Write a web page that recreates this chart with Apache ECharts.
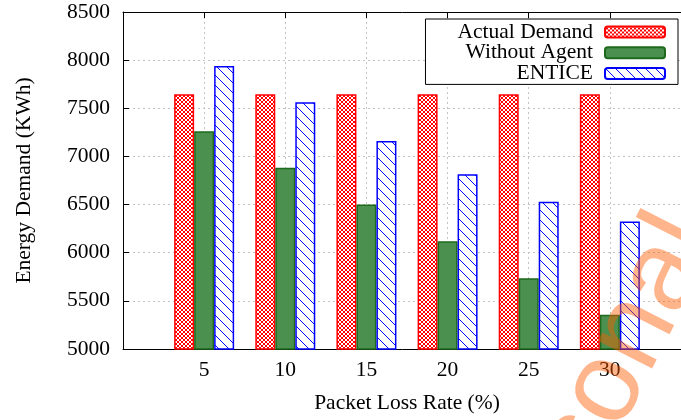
<!DOCTYPE html>
<html><head><meta charset="utf-8">
<script src="https://cdn.jsdelivr.net/npm/echarts@6/dist/echarts.min.js"></script>
<style>html,body{margin:0;padding:0;background:#fff}#c{width:681px;height:420px}</style>
</head><body><div id="c"></div>
<script>
const xValues = [5, 10, 15, 20, 25, 30];
const xTickLabels = ['5', '10', '15', '20', '25', '30'];
const seriesNames = ['Actual Demand', 'Without Agent', 'ENTICE'];
const actualDemand = [7645, 7645, 7645, 7645, 7645, 7645];
const withoutAgent = [7262, 6882, 6500, 6118, 5735, 5355];
const entice = [7938, 7562, 7160, 6815, 6530, 6324];
const yTicks = [5000, 5500, 6000, 6500, 7000, 7500, 8000, 8500];

function makePattern(size, draw) {
  const cv = document.createElement('canvas');
  cv.width = size; cv.height = size;
  const g = cv.getContext('2d');
  g.fillStyle = '#fff'; g.fillRect(0, 0, size, size);
  draw(g, size);
  return { image: cv, repeat: 'repeat' };
}
const redPat = makePattern(4, (g, s) => {
  g.strokeStyle = '#ff0000'; g.lineWidth = 1;
  g.beginPath();
  g.moveTo(0, 0); g.lineTo(s, s);
  g.moveTo(0, s); g.lineTo(s, 0);
  g.stroke();
});
const bluePat = makePattern(10, (g, s) => {
  g.strokeStyle = '#0000ff'; g.lineWidth = 1;
  g.beginPath();
  g.moveTo(-1, -1); g.lineTo(s + 1, s + 1);
  g.stroke();
});

const font = 'Liberation Serif';
const fs = 21.5;
const pair = arr => xValues.map((x, i) => [x, arr[i]]);

const chart = echarts.init(document.getElementById('c'), null, { renderer: 'canvas' });
chart.setOption({
  animation: false,
  backgroundColor: '#fff',
  textStyle: { fontFamily: font },
  grid: { left: 123, top: 12, right: -10, bottom: 71, show: false, outerBoundsMode: 'none', containLabel: false },
  legend: {
    orient: 'vertical', right: 3, top: 19, align: 'right',
    itemWidth: 60, itemHeight: 11, itemGap: -1.3,
    padding: [2, 12, 0, 32],
    borderColor: '#000', borderWidth: 1, backgroundColor: '#fff',
    textStyle: { fontFamily: font, fontSize: fs, color: '#000', lineHeight: 20.7, padding: [0, 7, 0, 0] },
    data: seriesNames
  },
  xAxis: [{
    type: 'value', min: 0, max: 35, interval: 5,
    name: 'Packet Loss Rate (%)', nameLocation: 'middle', nameGap: 43,
    nameTextStyle: { fontFamily: font, fontSize: fs, color: '#000' },
    axisLine: { show: true, onZero: false, lineStyle: { color: '#000', width: 1 } },
    axisTick: { show: true, inside: true, length: 6, lineStyle: { color: '#000' } },
    axisLabel: {
      fontFamily: font, fontSize: fs, color: '#000', margin: 10,
      formatter: v => { const i = xValues.indexOf(v); return i >= 0 ? xTickLabels[i] : ''; }
    },
    splitLine: { show: true, lineStyle: { color: '#c4c4c4', type: [2, 3], width: 1 } }
  }, {
    type: 'value', min: 0, max: 35, interval: 5, position: 'top',
    axisLine: { show: true, onZero: false, lineStyle: { color: '#000', width: 1 } },
    axisTick: { show: true, inside: true, length: 6, lineStyle: { color: '#000' } },
    axisLabel: { show: false }, splitLine: { show: false }
  }],
  yAxis: {
    type: 'value', min: yTicks[0], max: yTicks[yTicks.length - 1], interval: 500,
    name: 'Energy Demand (KWh)', nameLocation: 'middle', nameGap: 88, nameRotate: 90,
    nameTextStyle: { fontFamily: font, fontSize: fs, color: '#000' },
    axisLine: { show: true, lineStyle: { color: '#000', width: 1 } },
    axisTick: { show: true, inside: true, length: 6, lineStyle: { color: '#000' } },
    axisLabel: { fontFamily: font, fontSize: fs, color: '#000', margin: 13, formatter: v => String(v) },
    splitLine: { show: true, lineStyle: { color: '#c4c4c4', type: [2, 3], width: 1 } }
  },
  graphic: [{
    type: 'text', x: 535, y: 655, rotation: 63 * Math.PI / 180, z: 100, silent: true,
    style: {
      text: 'Personal use only', x: 0, y: 0, textAlign: 'left', textVerticalAlign: 'bottom',
      font: '115px "Liberation Sans"', fill: 'rgba(255,90,0,0.45)'
    }
  }],
  series: [{
    name: seriesNames[0], type: 'bar', barWidth: 20, barGap: '0%',
    data: pair(actualDemand),
    itemStyle: { color: redPat, borderColor: '#ff0000', borderWidth: 1.5 }
  }, {
    name: seriesNames[1], type: 'bar', barWidth: 20, barGap: '0%',
    data: pair(withoutAgent),
    itemStyle: { color: '#4b904f', borderColor: '#1d6a1d', borderWidth: 1.5 }
  }, {
    name: seriesNames[2], type: 'bar', barWidth: 20, barGap: '0%',
    data: pair(entice),
    itemStyle: { color: bluePat, borderColor: '#0000ff', borderWidth: 1.5 }
  }]
});
</script></body></html>
